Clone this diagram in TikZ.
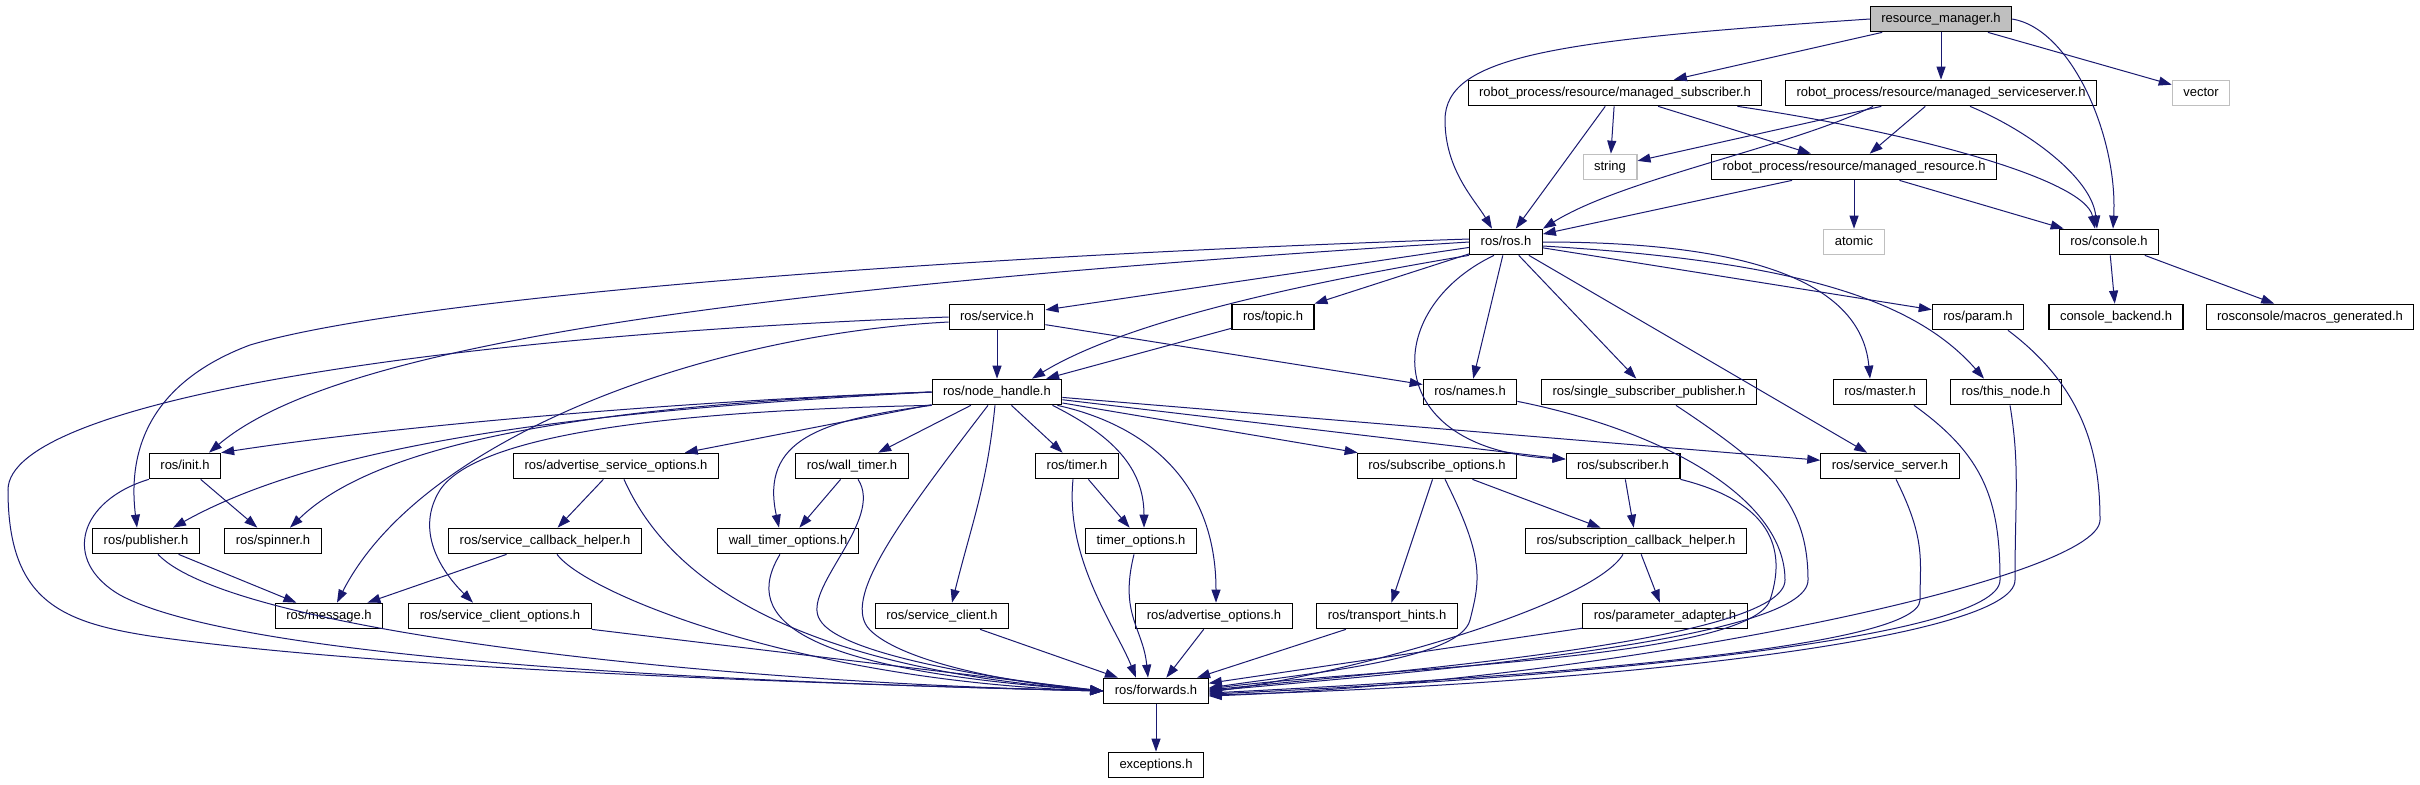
\documentclass[tikz,border=0pt]{standalone}
\usepackage{fontspec}
\setmainfont{Liberation Sans}
\usetikzlibrary{arrows.meta,calc}
\definecolor{edgeblue}{RGB}{25,25,112}
\definecolor{boxgray}{RGB}{191,191,191}

\begin{document}
\begin{tikzpicture}[x=0.5pt,y=-0.5pt,
  file/.style={draw=black, line width=0.6pt, fill=white, inner xsep=5.5pt, inner ysep=0pt,
    minimum height=12.75pt, text height=4.8pt, text depth=1.4pt,
    font=\fontsize{6.5}{7.5}\selectfont},
  sysfile/.style={file, draw=boxgray},
  link/.style={draw=edgeblue, line width=0.5pt, -{Triangle[length=6.5pt,width=4.5pt]}}]

% page size and background
\useasboundingbox (0,0) rectangle (2420,784);
\fill[white] (0,0) rectangle (2420,784);

% files, row by row
\node[file, fill=boxgray] (rm) at (1941,19) {resource\_manager.h};
\node[file] (msub) at (1615,93) {robot\_process/resource/managed\_subscriber.h};
\node[file] (msrv) at (1941,93) {robot\_process/resource/managed\_serviceserver.h};
\node[sysfile] (vec) at (2201,93) {vector};
\node[sysfile] (str) at (1610,167) {string};
\node[file] (mres) at (1854,167) {robot\_process/resource/managed\_resource.h};
\node[file] (ros) at (1506,242) {ros/ros.h};
\node[sysfile] (atom) at (1854,242) {atomic};
\node[file] (cons) at (2109,242) {ros/console.h};
\node[file] (srv) at (997,317) {ros/service.h};
\node[file] (topic) at (1273,317) {ros/topic.h};
\node[file] (param) at (1978,317) {ros/param.h};
\node[file] (cback) at (2116,317) {console\_backend.h};
\node[file] (macros) at (2310,317) {rosconsole/macros\_generated.h};
\node[file] (nh) at (997,392) {ros/node\_handle.h};
\node[file] (names) at (1470,392) {ros/names.h};
\node[file] (ssp) at (1649,392) {ros/single\_subscriber\_publisher.h};
\node[file] (master) at (1880,392) {ros/master.h};
\node[file] (tnode) at (2006,392) {ros/this\_node.h};
\node[file] (init) at (185,466) {ros/init.h};
\node[file] (aso) at (616,466) {ros/advertise\_service\_options.h};
\node[file] (wt) at (852,466) {ros/wall\_timer.h};
\node[file] (timer) at (1077,466) {ros/timer.h};
\node[file] (subo) at (1437,466) {ros/subscribe\_options.h};
\node[file] (sub) at (1623,466) {ros/subscriber.h};
\node[file] (ssrv) at (1890,466) {ros/service\_server.h};
\node[file] (pub) at (146,541) {ros/publisher.h};
\node[file] (spin) at (273,541) {ros/spinner.h};
\node[file] (sch) at (545,541) {ros/service\_callback\_helper.h};
\node[file] (wto) at (788,541) {wall\_timer\_options.h};
\node[file] (tmo) at (1141,541) {timer\_options.h};
\node[file] (scbh) at (1636,541) {ros/subscription\_callback\_helper.h};
\node[file] (msg) at (329,616) {ros/message.h};
\node[file] (sco) at (500,616) {ros/service\_client\_options.h};
\node[file] (sc) at (942,616) {ros/service\_client.h};
\node[file] (ao) at (1214,616) {ros/advertise\_options.h};
\node[file] (th) at (1387,616) {ros/transport\_hints.h};
\node[file] (pa) at (1665,616) {ros/parameter\_adapter.h};
\node[file] (fwd) at (1156,691) {ros/forwards.h};
\node[file] (exc) at (1156,765) {exceptions.h};

% resource_manager.h
\draw[link] (rm) -- (msub);
\draw[link] (rm) -- (msrv);
\draw[link] (rm) -- (vec);
\draw[link] (rm.east) .. controls +(60,10) and +(5,-90) .. ($(cons.north)+(4,0)$);
\draw[link] (rm.west) .. controls (1560,40) and (1445,55) .. (1445,120) .. controls (1445,170) and (1475,200) .. ($(ros.north)+(-14,0)$);

% managed subscriber / serviceserver / resource
\draw[link] (msub) -- (str);
\draw[link] (msub) -- (ros);
\draw[link] (msub) -- (mres);
\draw[link] ($(msub.south east)+(-25,0)$) .. controls +(170,25) and +(-10,-50) .. ($(cons.north)+(-14,0)$);
\draw[link] (msrv) -- (str);
\draw[link] ($(msrv.south)+(-68,0)$) .. controls +(-80,40) and +(80,-50) .. (ros.north east);
\draw[link] (msrv) -- (mres);
\draw[link] ($(msrv.south)+(29,0)$) .. controls +(60,25) and +(-5,-50) .. ($(cons.north)+(-12,0)$);
\draw[link] (mres) -- (ros);
\draw[link] (mres) -- (atom);
\draw[link] (mres) -- (cons);

% ros/console.h
\draw[link] (cons) -- (cback);
\draw[link] (cons) -- (macros);

% ros/ros.h
\draw[link] (ros) -- (srv);
\draw[link] (ros) -- (topic);
\draw[link] (ros) -- (names);
\draw[link] (ros) -- (ssp);
\draw[link] (ros) -- (ssrv);
\draw[link] (ros) -- (param);
\draw[link] (ros.south west) .. controls +(-180,30) and +(90,-55) .. ($(nh.north)+(35,0)$);
\draw[link] (ros.east) .. controls +(170,0) and +(-10,-110) .. ($(master.north)+(-10,0)$);
\draw[link] ($(ros.east)+(0,4)$) .. controls +(250,15) and +(-70,-80) .. ($(tnode.north)+(-22,0)$);
\draw[link] (ros.west) .. controls (700,290) and (330,350) .. ($(init.north)+(24,0)$);
\draw[link] ($(ros.west)+(0,-3)$) .. controls (900,258) and (400,300) .. (250,345) .. controls (170,375) and (125,430) .. ($(pub.north)+(-9,0)$);
\draw[link] ($(ros.south)+(-12,0)$) .. controls (1380,310) and (1380,450) .. ($(sub.west)+(0,-7)$);

% ros/topic.h and ros/service.h
\draw[link] (topic) -- (nh);
\draw[link] (srv) -- (nh);
\draw[link] (srv) -- (names);
\draw[link] ($(srv.west)+(0,5)$) .. controls (700,335) and (420,440) .. ($(msg.north)+(8,0)$);
\draw[link] (srv.west) .. controls (450,335) and (8,400) .. (8,490) .. controls (8,600) and (60,622) .. (150,636) .. controls (400,672) and (900,686) .. (fwd.west);

% ros/node_handle.h
\draw[link] (nh) -- (wt);
\draw[link] (nh) -- (aso);
\draw[link] (nh) -- (timer);
\draw[link] (nh) -- (subo);
\draw[link] (nh) -- (sub);
\draw[link] (nh) -- (ssrv);
\draw[link] (nh.west) .. controls (700,400) and (400,425) .. (init.north east);
\draw[link] (nh.west) .. controls (600,410) and (330,440) .. ($(pub.north)+(27,0)$);
\draw[link] (nh.west) .. controls (600,405) and (380,440) .. ($(spin.north)+(17,0)$);
\draw[link] (nh.south west) .. controls (700,410) and (480,430) .. (440,490) .. controls (415,530) and (440,570) .. ($(sco.north)+(-27,0)$);
\draw[link] (nh.south west) .. controls (820,420) and (760,440) .. ($(wto.north)+(-9,0)$);
\draw[link] ($(nh.south)+(-9,0)$) .. controls (900,520) and (840,600) .. (870,630) .. controls (900,660) and (1000,682) .. (fwd.west);
\draw[link] ($(nh.south)+(-2,0)$) .. controls +(-8,80) and +(20,-80) .. ($(sc.north)+(10,0)$);
\draw[link] ($(nh.south east)+(-10,0)$) .. controls +(60,30) and +(0,-60) .. ($(tmo.north)+(3,0)$);
\draw[link] ($(nh.south east)+(-5,0)$) .. controls +(90,20) and +(0,-120) .. ($(ao.north)+(2,0)$);

% left part
\draw[link] (init) -- (spin);
\draw[link] (init.south west) .. controls (80,500) and (60,560) .. (120,595) .. controls (250,665) and (800,684) .. (fwd.west);
\draw[link] (pub) -- (msg);
\draw[link] ($(pub.south)+(12,0)$) .. controls (230,630) and (700,682) .. (fwd.west);
\draw[link] (aso) -- (sch);
\draw[link] ($(aso.south)+(8,0)$) .. controls (660,560) and (760,665) .. (fwd.west);
\draw[link] (sch) -- (msg);
\draw[link] ($(sch.south)+(12,0)$) .. controls +(30,40) and +(-300,-10) .. (fwd.west);
\draw[link] (sco.south east) -- (fwd.west);
\draw[link] (wt) -- (wto);
\draw[link] ($(wt.south)+(6,0)$) .. controls (885,520) and (800,590) .. (820,620) .. controls (840,655) and (1000,680) .. (fwd.west);
\draw[link] ($(wto.south)+(-8,0)$) .. controls (740,620) and (800,670) .. (fwd.west);

% middle part
\draw[link] (timer) -- (tmo);
\draw[link] ($(timer.south)+(-4,0)$) .. controls +(-8,80) and +(-20,-50) .. ($(fwd.north)+(-20,0)$);
\draw[link] ($(tmo.south)+(-7,0)$) .. controls +(-15,60) and +(-5,-50) .. ($(fwd.north)+(-8,0)$);
\draw[link] (sc) -- (fwd);
\draw[link] (ao) -- (fwd);
\draw[link] (th) -- (fwd);
\draw[link] (subo) -- (th);
\draw[link] (subo) -- (scbh);
\draw[link] ($(subo.south)+(8,0)$) .. controls +(40,80) and +(10,-40) .. (1470,620) .. controls +(-10,40) and +(100,-15) .. ($(fwd.east)+(0,-3)$);

% right part
\draw[link] (sub) -- (scbh);
\draw[link] (sub.south east) .. controls +(80,20) and +(20,-60) .. (1770,600) .. controls +(-20,60) and +(150,-20) .. ($(fwd.east)+(0,-2)$);
\draw[link] (scbh) -- (pa);
\draw[link] ($(scbh.south)+(-13,0)$) .. controls +(-30,50) and +(150,-20) .. ($(fwd.east)+(0,1)$);
\draw[link] (pa) -- (fwd);
\draw[link] ($(names.south east)+(0,-4)$) .. controls +(150,30) and +(0,-80) .. (1785,580) .. controls +(0,60) and +(200,-20) .. ($(fwd.east)+(0,-1)$);
\draw[link] ($(ssp.south)+(27,0)$) .. controls +(90,60) and +(0,-80) .. (1808,580) .. controls +(0,60) and +(220,-20) .. (fwd.east);
\draw[link] ($(ssrv.south)+(6,0)$) .. controls +(30,60) and +(0,-40) .. (1920,600) .. controls +(0,50) and +(300,-15) .. ($(fwd.east)+(0,2)$);
\draw[link] ($(master.south)+(34,0)$) .. controls +(70,50) and +(0,-80) .. (2000,580) .. controls +(0,60) and +(350,-15) .. ($(fwd.east)+(0,3)$);
\draw[link] ($(tnode.south)+(4,0)$) .. controls +(10,60) and +(0,-80) .. (2015,580) .. controls +(0,60) and +(380,-10) .. ($(fwd.east)+(0,4)$);
\draw[link] ($(param.south)+(30,0)$) .. controls +(80,60) and +(0,-60) .. (2100,520) .. controls +(0,60) and +(400,-15) .. ($(fwd.east)+(0,5)$);

% ros/forwards.h
\draw[link] (fwd) -- (exc);

\end{tikzpicture}
\end{document}
